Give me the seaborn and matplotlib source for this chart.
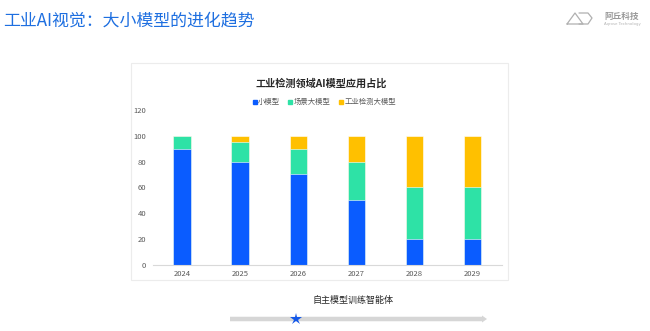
import numpy as np
import pandas as pd
import seaborn as sns
import matplotlib.pyplot as plt
from matplotlib.patches import Rectangle, FancyArrow
from matplotlib.lines import Line2D

##############################################################################
# Data
##############################################################################
years = ["2024", "2025", "2026", "2027", "2028", "2029"]
small_model = [90, 80, 70, 50, 20, 20]
scene_model = [10, 15, 20, 30, 40, 40]
industry_model = [0, 5, 10, 20, 40, 40]
series_names = ["小模型", "场景大模型", "工业检测大模型"]
y_ticks = [0, 20, 40, 60, 80, 100, 120]

colors = ["#0A5CFF", "#2EE2A6", "#FFC000"]
grey = "#595959"

df = pd.DataFrame({"year": years, "small": small_model,
                   "scene": scene_model, "industry": industry_model})
# cumulative heights, drawn back to front so they look stacked
df["c1"] = df["small"]
df["c2"] = df["small"] + df["scene"]
df["c3"] = df["c2"] + df["industry"]

sns.set_theme(style="white")
plt.rcParams["font.family"] = ["Noto Sans CJK SC", "DejaVu Sans"]

fig = plt.figure(figsize=(6.5, 3.31), dpi=100)
fig.patch.set_facecolor("white")

# background layer for the slide decorations (pixel coords)
bg = fig.add_axes([0, 0, 1, 1])
bg.set_xlim(0, 650)
bg.set_ylim(331, 0)
bg.axis("off")

# card
bg.add_patch(Rectangle((131, 63), 377, 217, facecolor="white",
                       edgecolor="#ececec", linewidth=0.8))

# slide title
bg.text(3, 20, "工业AI视觉：大小模型的进化趋势", color="#1E6FE0",
        fontsize=12.2, va="center", ha="left")

# logo
bg.add_line(Line2D([567, 575, 583, 567], [24, 13, 24, 24], color="#b0b0b0", lw=0.9))
bg.add_line(Line2D([579, 588, 592, 588, 579], [13, 13, 18, 24, 24], color="#b0b0b0", lw=0.9))
bg.text(604, 16, "阿丘科技", color="#9a9a9a", fontsize=6.2, va="center", ha="left",
        fontweight="bold")
bg.text(604, 24, "Aqrose Technology", color="#b5b5b5", fontsize=2.8,
        va="center", ha="left", family=["DejaVu Sans"])

# card title
bg.text(321, 84, "工业检测领域AI模型应用占比", color="#262626", fontsize=7.3,
        va="center", ha="center", fontweight="semibold")

# timeline below
bg.text(353, 300, "自主模型训练智能体", color="#262626", fontsize=6.5,
        va="center", ha="center")
bg.add_patch(FancyArrow(230, 319, 257, 0, width=4.5, head_width=7,
                        head_length=5, length_includes_head=True,
                        color="#d6d6d6", linewidth=0))
bg.plot([296], [319], marker="*", color="#1458E8", markersize=9,
        markeredgewidth=0)

##############################################################################
# Stacked bar chart
##############################################################################
ax = fig.add_axes([153 / 650, 1 - 264.7 / 331, 348.6 / 650, 154.7 / 331])
ax.set_facecolor("none")

for col, color in zip(["c3", "c2", "c1"], colors[::-1]):
    sns.barplot(data=df, x="year", y=col, color=color, width=0.3,
                saturation=1, ax=ax, edgecolor="white", linewidth=0.4)

ax.set_ylim(0, 120)
ax.set_xlim(-0.5, 5.5)
ax.set_yticks(y_ticks)
ax.set_xlabel("")
ax.set_ylabel("")
ax.tick_params(axis="both", labelsize=5.5, colors=grey, length=0)
ax.tick_params(axis="x", pad=4)
ax.tick_params(axis="y", pad=5)
for side in ["top", "right", "left"]:
    ax.spines[side].set_visible(False)
ax.spines["bottom"].set_color("#d9d9d9")
ax.spines["bottom"].set_linewidth(0.8)

handles = [Line2D([], [], marker="s", linestyle="", color=c, markersize=3.2)
           for c in colors]
ax.legend(handles, series_names, loc="center", bbox_to_anchor=(0.49, 1.05),
          ncol=3, frameon=False, fontsize=5.3, labelcolor=grey,
          handletextpad=0.05, columnspacing=1.0, handlelength=0.8)

fig.savefig("out.png", dpi=100, facecolor="white")
